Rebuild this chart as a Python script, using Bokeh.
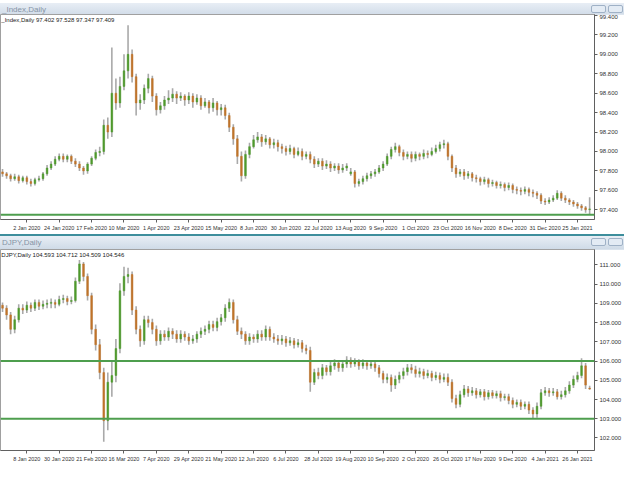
from bokeh.plotting import figure
from bokeh.layouts import column
from bokeh.models import (Span, Label, FixedTicker, Range1d, ColumnDataSource,
                          PrintfTickFormatter, Div)
from bokeh.embed import file_html
from bokeh.resources import INLINE

# ---------------- data: top pane (_Index, Daily) ----------------
idx_open = [
    97.79, 97.77, 97.75, 97.72, 97.74, 97.70, 97.73, 97.69, 97.67, 97.71,
    97.72, 97.77, 97.83, 97.87, 97.92, 97.95, 97.92, 97.95, 97.90, 97.87,
    97.83, 97.80, 97.87, 97.93, 97.99, 98.00, 98.27, 98.20, 98.60, 98.50,
    98.67, 98.83, 99.00, 98.77, 98.50, 98.53, 98.65, 98.75, 98.57, 98.43,
    98.47, 98.53, 98.55, 98.59, 98.55, 98.57, 98.53, 98.57, 98.51, 98.55,
    98.47, 98.51, 98.45, 98.50, 98.43, 98.45, 98.37, 98.25, 98.13, 97.95,
    97.75, 97.97, 98.05, 98.12, 98.15, 98.10, 98.13, 98.07, 98.09, 98.05,
    98.03, 98.00, 98.03, 97.97, 98.00, 97.95, 97.97, 97.92, 97.87, 97.90,
    97.85, 97.87, 97.83, 97.85, 97.81, 97.83, 97.77, 97.79, 97.67, 97.69,
    97.72, 97.75, 97.77, 97.79, 97.83, 97.87, 97.95, 98.02, 98.05, 97.99,
    97.95, 97.97, 97.93, 97.97, 97.95, 97.98, 97.97, 98.00, 98.03, 98.07,
    98.08, 97.95, 97.83, 97.77, 97.79, 97.75, 97.77, 97.73, 97.72, 97.69,
    97.71, 97.67, 97.68, 97.65, 97.66, 97.63, 97.65, 97.61, 97.60, 97.59,
    97.61, 97.58, 97.57, 97.55, 97.49, 97.48, 97.50, 97.52, 97.57, 97.52,
    97.50, 97.48, 97.46, 97.44, 97.42, 97.402]
idx_high = [
    97.82, 97.79, 97.77, 97.77, 97.76, 97.75, 97.75, 97.72, 97.73, 97.75,
    97.79, 97.86, 97.90, 97.95, 97.98, 97.98, 97.97, 97.97, 97.93, 97.90,
    97.85, 97.89, 97.95, 98.02, 98.05, 98.33, 98.35, 99.07, 98.75, 98.77,
    99.00, 99.30, 99.05, 98.80, 98.59, 98.69, 98.80, 98.78, 98.60, 98.51,
    98.57, 98.63, 98.65, 98.62, 98.61, 98.59, 98.61, 98.60, 98.59, 98.58,
    98.55, 98.53, 98.55, 98.52, 98.49, 98.48, 98.40, 98.28, 98.17, 98.00,
    98.01, 98.09, 98.17, 98.20, 98.18, 98.17, 98.15, 98.13, 98.12, 98.08,
    98.06, 98.07, 98.05, 98.04, 98.03, 98.00, 98.00, 97.95, 97.93, 97.93,
    97.91, 97.90, 97.88, 97.88, 97.87, 97.88, 97.83, 97.81, 97.72, 97.75,
    97.78, 97.80, 97.82, 97.86, 97.90, 97.98, 98.05, 98.09, 98.07, 98.02,
    98.00, 98.00, 98.00, 97.99, 98.02, 98.01, 98.04, 98.07, 98.10, 98.12,
    98.10, 97.97, 97.86, 97.82, 97.82, 97.80, 97.79, 97.76, 97.74, 97.74,
    97.73, 97.71, 97.70, 97.69, 97.68, 97.68, 97.67, 97.64, 97.63, 97.64,
    97.63, 97.61, 97.59, 97.57, 97.52, 97.53, 97.55, 97.60, 97.59, 97.55,
    97.52, 97.50, 97.48, 97.46, 97.44, 97.528]
idx_low = [
    97.74, 97.72, 97.69, 97.70, 97.67, 97.68, 97.66, 97.64, 97.65, 97.69,
    97.70, 97.75, 97.81, 97.85, 97.90, 97.89, 97.89, 97.87, 97.84, 97.80,
    97.76, 97.77, 97.85, 97.91, 97.95, 97.97, 98.13, 98.15, 98.43, 98.45,
    98.63, 98.75, 98.71, 98.37, 98.43, 98.49, 98.60, 98.51, 98.37, 98.39,
    98.43, 98.49, 98.51, 98.49, 98.52, 98.47, 98.49, 98.45, 98.48, 98.43,
    98.45, 98.39, 98.41, 98.37, 98.37, 98.33, 98.20, 98.07, 97.87, 97.69,
    97.72, 97.93, 98.03, 98.09, 98.05, 98.07, 98.03, 98.03, 98.00, 97.98,
    97.96, 97.97, 97.93, 97.95, 97.91, 97.92, 97.88, 97.83, 97.84, 97.81,
    97.82, 97.79, 97.80, 97.77, 97.78, 97.80, 97.75, 97.63, 97.64, 97.66,
    97.69, 97.72, 97.74, 97.77, 97.80, 97.85, 97.92, 97.99, 97.95, 97.91,
    97.92, 97.89, 97.90, 97.91, 97.92, 97.93, 97.95, 97.98, 98.00, 98.03,
    97.91, 97.79, 97.73, 97.74, 97.71, 97.72, 97.69, 97.68, 97.65, 97.66,
    97.63, 97.64, 97.62, 97.62, 97.59, 97.60, 97.57, 97.56, 97.55, 97.56,
    97.54, 97.53, 97.51, 97.46, 97.45, 97.46, 97.48, 97.50, 97.49, 97.47,
    97.45, 97.43, 97.41, 97.39, 97.37, 97.347]
idx_close = [
    97.77, 97.75, 97.72, 97.74, 97.70, 97.73, 97.69, 97.67, 97.71, 97.72,
    97.77, 97.83, 97.87, 97.92, 97.95, 97.92, 97.95, 97.90, 97.87, 97.83,
    97.80, 97.87, 97.93, 97.99, 98.00, 98.27, 98.20, 98.60, 98.50, 98.67,
    98.83, 99.00, 98.77, 98.50, 98.53, 98.65, 98.75, 98.57, 98.43, 98.47,
    98.53, 98.55, 98.59, 98.55, 98.57, 98.53, 98.57, 98.51, 98.55, 98.47,
    98.51, 98.45, 98.50, 98.43, 98.45, 98.37, 98.25, 98.13, 97.95, 97.75,
    97.97, 98.05, 98.12, 98.15, 98.10, 98.13, 98.07, 98.09, 98.05, 98.03,
    98.00, 98.03, 97.97, 98.00, 97.95, 97.97, 97.92, 97.87, 97.90, 97.85,
    97.87, 97.83, 97.85, 97.81, 97.83, 97.85, 97.79, 97.67, 97.69, 97.72,
    97.75, 97.77, 97.79, 97.83, 97.87, 97.95, 98.02, 98.05, 97.99, 97.95,
    97.97, 97.93, 97.97, 97.95, 97.98, 97.97, 98.00, 98.03, 98.07, 98.08,
    97.95, 97.83, 97.77, 97.79, 97.75, 97.77, 97.73, 97.72, 97.69, 97.71,
    97.67, 97.68, 97.65, 97.66, 97.63, 97.65, 97.61, 97.60, 97.59, 97.61,
    97.58, 97.57, 97.55, 97.49, 97.48, 97.50, 97.52, 97.57, 97.52, 97.50,
    97.48, 97.46, 97.44, 97.42, 97.40, 97.409]
idx_level = [97.35]
idx_ticks = [97.4, 97.6, 97.8, 98.0, 98.2, 98.4, 98.6, 98.8, 99.0, 99.2, 99.4]
idx_dates = ["2 Jan 2020", "24 Jan 2020", "17 Feb 2020", "10 Mar 2020", "1 Apr 2020",
             "23 Apr 2020", "15 May 2020", "8 Jun 2020", "30 Jun 2020", "22 Jul 2020",
             "13 Aug 2020", "9 Sep 2020", "1 Oct 2020", "23 Oct 2020", "16 Nov 2020",
             "8 Dec 2020", "31 Dec 2020", "25 Jan 2021"]

# ---------------- data: bottom pane (DJPY, Daily) ----------------
jpy_open = [
    108.90, 108.75, 108.40, 107.65, 108.15, 108.75, 108.65, 108.90, 108.75, 109.05,
    108.85, 108.95, 109.00, 109.05, 108.95, 109.20, 109.25, 109.10, 109.15, 110.15,
    111.05, 110.40, 109.40, 107.65, 106.85, 105.40, 102.90, 104.90, 105.25, 106.65,
    109.65, 110.40, 110.50, 108.65, 107.65, 107.05, 108.15, 108.00, 107.65, 107.05,
    107.40, 107.25, 107.55, 107.40, 107.15, 107.40, 107.25, 107.05, 107.15, 107.40,
    107.55, 107.65, 107.90, 107.75, 108.05, 108.25, 108.75, 109.05, 108.15, 107.55,
    107.40, 107.05, 107.25, 107.15, 107.40, 107.25, 107.65, 107.25, 107.15, 107.05,
    107.15, 106.95, 107.05, 106.85, 106.95, 106.65, 106.55, 104.90, 105.40, 105.25,
    105.65, 105.45, 105.75, 105.90, 105.65, 105.85, 106.05, 105.85, 105.95, 105.75,
    105.90, 105.75, 105.85, 105.65, 105.35, 105.05, 105.15, 104.75, 105.05, 105.25,
    105.45, 105.65, 105.55, 105.35, 105.45, 105.25, 105.35, 105.15, 105.25, 105.05,
    105.15, 104.90, 104.05, 103.75, 104.25, 104.55, 104.35, 104.45, 104.25, 104.40,
    104.15, 104.35, 104.20, 104.30, 104.10, 104.15, 103.95, 103.75, 103.85, 103.65,
    103.75, 103.45, 103.25, 103.65, 104.35, 104.45, 104.35, 104.40, 104.15, 104.25,
    104.45, 104.75, 105.05, 105.25, 105.75, 104.593]
jpy_high = [
    109.05, 108.90, 108.55, 108.35, 108.95, 108.95, 109.10, 109.05, 109.20, 109.20,
    109.15, 109.20, 109.25, 109.20, 109.40, 109.45, 109.40, 109.35, 110.35, 111.25,
    111.15, 110.55, 109.55, 107.90, 107.15, 105.65, 105.40, 106.05, 107.15, 110.05,
    110.90, 110.85, 110.65, 108.85, 107.85, 108.35, 108.35, 108.20, 107.85, 107.60,
    107.60, 107.75, 107.70, 107.60, 107.60, 107.55, 107.45, 107.35, 107.55, 107.75,
    107.85, 108.10, 108.10, 108.25, 108.45, 108.95, 109.25, 109.20, 108.35, 107.75,
    107.55, 107.45, 107.40, 107.60, 107.60, 107.85, 107.80, 107.45, 107.35, 107.35,
    107.30, 107.25, 107.20, 107.15, 107.10, 106.85, 106.75, 105.60, 105.65, 105.85,
    105.80, 105.95, 106.10, 106.05, 106.05, 106.25, 106.20, 106.15, 106.10, 106.10,
    106.05, 106.05, 106.00, 105.80, 105.50, 105.35, 105.30, 105.25, 105.45, 105.65,
    105.85, 105.85, 105.75, 105.65, 105.60, 105.55, 105.50, 105.45, 105.40, 105.35,
    105.35, 105.05, 104.25, 104.45, 104.75, 104.70, 104.65, 104.60, 104.55, 104.55,
    104.50, 104.50, 104.45, 104.45, 104.30, 104.30, 104.10, 104.00, 104.00, 103.90,
    103.90, 103.60, 103.85, 104.55, 104.65, 104.60, 104.60, 104.55, 104.45, 104.65,
    104.95, 105.25, 105.45, 106.15, 105.90, 104.712]
jpy_low = [
    108.55, 108.15, 107.40, 107.45, 108.00, 108.45, 108.50, 108.55, 108.60, 108.65,
    108.70, 108.75, 108.75, 108.75, 108.85, 109.00, 108.90, 108.95, 109.05, 110.00,
    110.15, 109.15, 107.40, 106.55, 105.05, 101.80, 102.40, 104.15, 104.90, 106.40,
    109.40, 110.05, 108.40, 107.40, 106.75, 106.85, 107.75, 107.40, 106.80, 106.85,
    107.05, 107.05, 107.15, 106.95, 106.95, 107.05, 106.85, 106.90, 106.95, 107.20,
    107.35, 107.45, 107.55, 107.55, 107.85, 108.05, 108.55, 107.95, 107.35, 107.15,
    106.85, 106.85, 106.95, 106.95, 107.05, 107.05, 107.05, 106.95, 106.85, 106.85,
    106.75, 106.80, 106.65, 106.70, 106.45, 106.35, 104.40, 104.75, 105.05, 105.05,
    105.25, 105.25, 105.55, 105.45, 105.45, 105.65, 105.65, 105.70, 105.55, 105.60,
    105.55, 105.60, 105.45, 105.15, 104.85, 104.85, 104.40, 104.55, 104.85, 105.05,
    105.25, 105.35, 105.15, 105.15, 105.05, 105.10, 104.95, 105.00, 104.85, 104.90,
    104.70, 103.85, 103.55, 103.60, 104.10, 104.15, 104.20, 104.05, 104.10, 103.95,
    104.00, 104.05, 104.05, 103.90, 103.95, 103.75, 103.55, 103.60, 103.45, 103.50,
    103.25, 103.00, 103.05, 103.50, 104.20, 104.15, 104.20, 104.00, 104.00, 104.10,
    104.30, 104.60, 104.90, 105.10, 104.55, 104.509]
jpy_close = [
    108.75, 108.40, 107.65, 108.15, 108.75, 108.65, 108.90, 108.75, 109.05, 108.85,
    108.95, 109.00, 109.05, 108.95, 109.20, 109.25, 109.10, 109.15, 110.15, 111.05,
    110.40, 109.40, 107.65, 106.85, 105.40, 102.90, 104.90, 105.25, 106.65, 109.65,
    110.40, 110.50, 108.65, 107.65, 107.05, 108.15, 108.00, 107.65, 107.05, 107.40,
    107.25, 107.55, 107.40, 107.15, 107.40, 107.25, 107.05, 107.15, 107.40, 107.55,
    107.65, 107.90, 107.75, 108.05, 108.25, 108.75, 109.05, 108.15, 107.55, 107.40,
    107.05, 107.25, 107.15, 107.40, 107.25, 107.65, 107.25, 107.15, 107.05, 107.15,
    106.95, 107.05, 106.85, 106.95, 106.65, 106.55, 104.90, 105.40, 105.25, 105.65,
    105.45, 105.75, 105.90, 105.65, 105.85, 106.05, 105.85, 105.95, 105.75, 105.90,
    105.75, 105.85, 105.65, 105.35, 105.05, 105.15, 104.75, 105.05, 105.25, 105.45,
    105.65, 105.55, 105.35, 105.45, 105.25, 105.35, 105.15, 105.25, 105.05, 105.15,
    104.90, 104.05, 103.75, 104.25, 104.55, 104.35, 104.45, 104.25, 104.40, 104.15,
    104.35, 104.20, 104.30, 104.10, 104.15, 103.95, 103.75, 103.85, 103.65, 103.75,
    103.45, 103.25, 103.65, 104.35, 104.45, 104.35, 104.40, 104.15, 104.25, 104.45,
    104.75, 105.05, 105.25, 105.75, 104.75, 104.546]
jpy_levels = [106.00, 103.00]
jpy_ticks = [102, 103, 104, 105, 106, 107, 108, 109, 110, 111]
jpy_dates = ["8 Jan 2020", "30 Jan 2020", "21 Feb 2020", "16 Mar 2020", "7 Apr 2020",
             "29 Apr 2020", "21 May 2020", "12 Jun 2020", "6 Jul 2020", "28 Jul 2020",
             "19 Aug 2020", "10 Sep 2020", "2 Oct 2020", "26 Oct 2020", "17 Nov 2020",
             "9 Dec 2020", "4 Jan 2021", "26 Jan 2021"]

date_bars = [6, 14, 22, 30, 38, 46, 54, 62, 70, 78, 86, 94, 102, 110, 118, 126, 134, 142]

FONT = "Liberation Sans"
UP = "#4f9b2c"
DOWN = "#c0742a"
WICK = "#a9a9a9"
LEVEL = "#4e9e4e"
X_END = 146.2


def bar_div(name, first):
    border = "" if first else "border-top:2px solid #3d8e9c;"
    h = 14 if first else 16
    btn = ("<span style='display:inline-block;width:15px;height:8px;margin:2px 1px 0 1px;"
           "border:1px solid #9fb1c6;border-radius:2px;background:#e3ebf4;'></span>")
    html = ("<div style='width:624px;height:%dpx;box-sizing:border-box;%s"
            "background:linear-gradient(#e8eef5,#cdd9e6);color:#8694a6;"
            "font-family:Liberation Sans;font-size:8px;line-height:13px;padding-left:2px;'>"
            "%s<span style='float:right;'>%s%s</span></div>") % (h, border, name, btn, btn)
    return Div(text=html, width=624, height=h, margin=(0, 0, 0, 0))


def make_pane(info, o, h, l, c, y0, y1, yticks, levels, dates, height, fmt):
    xs = list(range(len(o)))
    top = [max(a, b) for a, b in zip(o, c)]
    bot = [min(a, b) for a, b in zip(o, c)]
    col = [UP if b >= a else DOWN for a, b in zip(o, c)]
    src = ColumnDataSource(dict(x=xs, h=h, l=l, top=top, bot=bot, col=col))
    p = figure(width=624, height=height, x_range=Range1d(-0.5, X_END),
               y_range=Range1d(y0, y1), output_backend="svg", toolbar_location=None,
               y_axis_location="right", min_border_left=0, min_border_top=0,
               min_border_bottom=0, min_border_right=30)
    p.background_fill_color = "white"
    p.border_fill_color = "white"
    p.outline_line_color = "#a0a0a0"
    p.grid.visible = False
    for lv in levels:
        p.add_layout(Span(location=lv, dimension="width", line_color=LEVEL, line_width=2))
    p.segment(x0="x", y0="l", x1="x", y1="h", source=src, line_color=WICK, line_width=1.6)
    p.vbar(x="x", width=0.42, top="top", bottom="bot", source=src,
           fill_color="col", line_color="col", line_width=0.5)
    p.add_layout(Label(x=-0.3, y=y1, text=info, text_baseline="top", y_offset=-2,
                       text_font=FONT, text_font_size="6px", text_color="#222222"))
    ya = p.yaxis[0]
    ya.ticker = FixedTicker(ticks=yticks)
    ya.formatter = PrintfTickFormatter(format=fmt)
    ya.major_label_text_font = FONT
    ya.major_label_text_font_size = "6px"
    ya.major_label_text_color = "#333333"
    ya.axis_line_color = "#606060"
    ya.major_tick_line_color = "#606060"
    ya.major_tick_in = 0
    ya.major_tick_out = 3
    ya.minor_tick_line_color = None
    ya.major_label_standoff = 2
    xa = p.xaxis[0]
    xa.ticker = FixedTicker(ticks=date_bars)
    xa.major_label_overrides = {t: d for t, d in zip(date_bars, dates)}
    xa.major_label_text_font = FONT
    xa.major_label_text_font_size = "5.5px"
    xa.major_label_text_color = "#333333"
    xa.axis_line_color = "#606060"
    xa.major_tick_line_color = "#606060"
    xa.major_tick_in = 0
    xa.major_tick_out = 3
    xa.minor_tick_line_color = None
    xa.major_label_standoff = 2
    return p


p1 = make_pane("_Index,Daily 97.402 97.528 97.347 97.409", idx_open, idx_high, idx_low,
               idx_close, 97.30, 99.41, idx_ticks, idx_level, idx_dates, 219, "%.3f")
p2 = make_pane("DJPY,Daily 104.593 104.712 104.509 104.546", jpy_open, jpy_high, jpy_low,
               jpy_close, 101.35, 111.80, jpy_ticks, jpy_levels, jpy_dates, 215, "%.3f")

layout = column(bar_div("_Index,Daily", True), p1, bar_div("DJPY,Daily", False), p2,
                spacing=0)

open("out.html", "w").write(file_html(layout, INLINE))
